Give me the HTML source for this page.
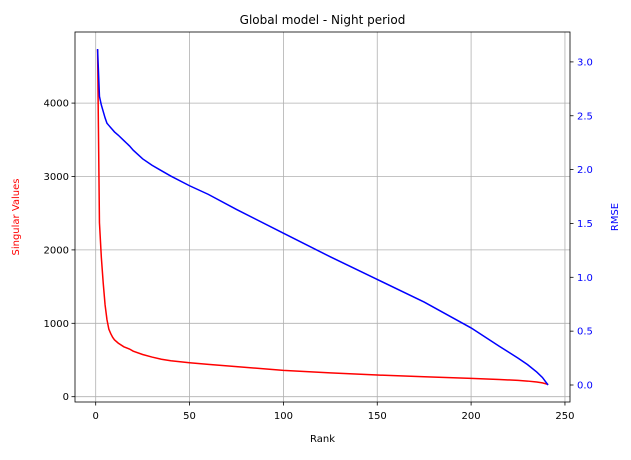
<!DOCTYPE html>
<html><head><meta charset="utf-8"><style>
body{margin:0;background:#fff;font-family:"Liberation Sans","DejaVu Sans",sans-serif;}
svg text{font-family:"DejaVu Sans","Liberation Sans",sans-serif;}
</style></head><body>
<svg id="c" width="631" height="455" viewBox="0 0 631 455" xmlns="http://www.w3.org/2000/svg"></svg>
<script>
const ranks=[1,2,3,4,5,6,7,8,9,10,12,15,18,20,25,30,35,40,50,60,75,100,125,150,175,200,215,225,230,235,238,241];
const singularValues=[4730,2370,1900,1550,1250,1050,920,860,810,775,730,680,650,620,575,540,510,490,463,440,410,358,325,295,272,250,235,222,213,200,188,168];
const rmseValues=[3.12,2.68,2.60,2.54,2.48,2.43,2.41,2.39,2.37,2.35,2.32,2.27,2.22,2.18,2.10,2.04,1.99,1.94,1.85,1.77,1.63,1.41,1.19,0.98,0.77,0.53,0.36,0.25,0.19,0.12,0.07,0.0];
const xTicks=[0,50,100,150,200,250];
const yLeftTicks=[0,1000,2000,3000,4000];
const yRightTicks=[0,0.5,1,1.5,2,2.5,3];
const L=75,R=570,T=32,B=402;
const xs=v=>95.7+v*1.877;
const yl=v=>396.7-v*0.0734;
const yr=v=>385-v*107.7;
const svg=document.getElementById('c');
const NS='http://www.w3.org/2000/svg';
function mk(t,a,txt){const e=document.createElementNS(NS,t);for(const k in a)e.setAttribute(k,a[k]);if(txt!==undefined)e.textContent=txt;svg.appendChild(e);return e;}
xTicks.forEach(v=>{
 const g=mk('line',{x1:xs(v),x2:xs(v),y1:T,y2:B,stroke:'#b0b0b0','stroke-width':0.8});
 
 mk('line',{x1:xs(v),x2:xs(v),y1:B,y2:B+3.5,stroke:'#000','stroke-width':0.8});
 const t=mk('text',{x:xs(v),y:B+17,'font-size':10,'text-anchor':'middle'},String(v));
 
});
yLeftTicks.forEach(v=>{
 const g=mk('line',{x1:L,x2:R,y1:yl(v),y2:yl(v),stroke:'#b0b0b0','stroke-width':0.8});
 
 mk('line',{x1:L-3.5,x2:L,y1:yl(v),y2:yl(v),stroke:'#000','stroke-width':0.8});
 const t=mk('text',{x:L-6,y:yl(v)+3.5,'font-size':10,'text-anchor':'end'},String(v));
 
});
yRightTicks.forEach(v=>{
 mk('line',{x1:R,x2:R+3.5,y1:yr(v),y2:yr(v),stroke:'#000','stroke-width':0.8});
 const t=mk('text',{x:R+7,y:yr(v)+3.5,'font-size':10,fill:'#0000ff'},v.toFixed(1));
 
});
const red=mk('polyline',{points:ranks.map((r,i)=>xs(r)+','+yl(singularValues[i])).join(' '),fill:'none',stroke:'#ff0000','stroke-width':1.5});

const blue=mk('polyline',{points:ranks.map((r,i)=>xs(r)+','+yr(rmseValues[i])).join(' '),fill:'none',stroke:'#0000ff','stroke-width':1.5});

const fr=mk('rect',{x:L,y:T,width:R-L,height:B-T,fill:'none',stroke:'#000','stroke-width':0.8});

const ti=mk('text',{x:(L+R)/2,y:24,'font-size':12,'text-anchor':'middle'},'Global model - Night period');

const xl=mk('text',{x:(L+R)/2,y:442,'font-size':10,'text-anchor':'middle'},'Rank');

const ylt=mk('text',{x:0,y:0,'font-size':10,'text-anchor':'middle',fill:'#ff0000',transform:'translate(19,217) rotate(-90)'},'Singular Values');

const yrt=mk('text',{x:0,y:0,'font-size':10,'text-anchor':'middle',fill:'#0000ff',transform:'translate(618,217) rotate(-90)'},'RMSE');

</script>
</body></html>
